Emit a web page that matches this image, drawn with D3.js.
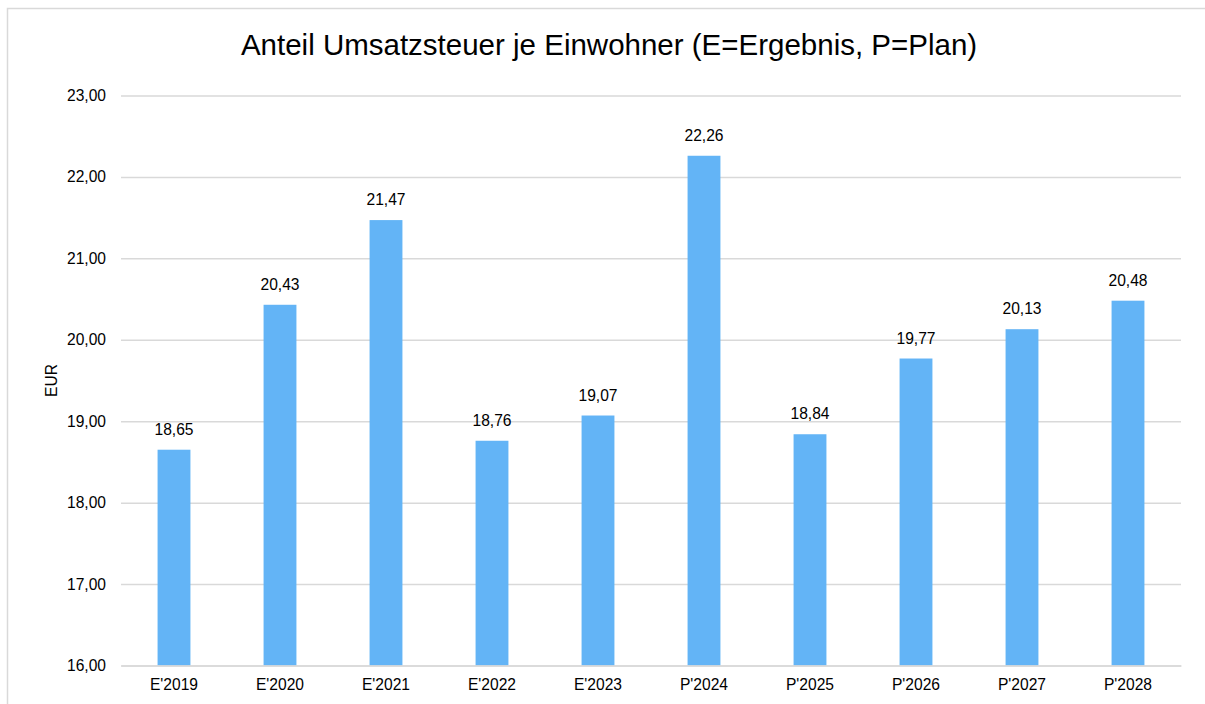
<!DOCTYPE html>
<html>
<head>
<meta charset="utf-8">
<script src="https://cdn.jsdelivr.net/npm/d3@7"></script>
<style>
  body { margin: 0; background: #fff; }
  text { font-family: "Liberation Sans", Arial, sans-serif; fill: #000; }
</style>
</head>
<body>
<script>
// Daten
const kategorien = ["E'2019", "E'2020", "E'2021", "E'2022", "E'2023", "P'2024", "P'2025", "P'2026", "P'2027", "P'2028"];
const werte = [18.65, 20.43, 21.47, 18.76, 19.07, 22.26, 18.84, 19.77, 20.13, 20.48];
const yTicks = [16, 17, 18, 19, 20, 21, 22, 23];

const width = 1205;
const height = 704;
const margin = { top: 95.5, right: 24, bottom: 38.5, left: 121 };
const fs = 15.6;

const svg = d3.select("body").append("svg")
    .attr("width", width)
    .attr("height", height);

// Rahmen
svg.append("rect")
    .attr("x", 7.5).attr("y", 8.5)
    .attr("width", width).attr("height", height)
    .attr("fill", "none")
    .attr("stroke", "#d9d9d9")
    .attr("stroke-width", 1.5);

const x = d3.scaleBand()
    .domain(kategorien)
    .range([margin.left, width - margin.right])
    .paddingInner(0.69)
    .paddingOuter(0.345);

const y = d3.scaleLinear()
    .domain([16, 23])
    .range([height - margin.bottom, margin.top]);

const fmt = v => d3.format(".2f")(v).replace(".", ",");

// Gitternetz
svg.append("g")
    .attr("transform", `translate(${margin.left},0)`)
    .call(d3.axisLeft(y).tickValues(yTicks).tickSize(-(width - margin.left - margin.right)).tickFormat(fmt).tickPadding(15))
    .call(g => g.select(".domain").remove())
    .call(g => g.selectAll(".tick line").attr("stroke", "#d9d9d9").attr("stroke-width", 1.5))
    .call(g => g.selectAll(".tick text").attr("font-size", fs).attr("font-family", "Liberation Sans, Arial, sans-serif").attr("fill", "#000"));

// Balken
svg.append("g").selectAll("rect")
    .data(werte)
    .enter()
    .append("rect")
    .attr("x", (d, i) => x(kategorien[i]))
    .attr("y", d => y(d))
    .attr("width", x.bandwidth())
    .attr("height", d => y(16) - y(d))
    .attr("fill", "#63b4f6");

// Werte
svg.append("g").selectAll("text")
    .data(werte)
    .enter()
    .append("text")
    .attr("x", (d, i) => x(kategorien[i]) + x.bandwidth() / 2)
    .attr("y", d => y(d) - 15)
    .attr("text-anchor", "middle")
    .attr("font-size", fs)
    .text(d => fmt(d));

// X-Achse
svg.append("g")
    .attr("transform", `translate(0,${height - margin.bottom})`)
    .call(d3.axisBottom(x).tickSize(0).tickPadding(13))
    .call(g => g.select(".domain").attr("stroke", "#d9d9d9").attr("stroke-width", 1.5))
    .call(g => g.selectAll(".tick text").attr("font-size", fs).attr("font-family", "Liberation Sans, Arial, sans-serif").attr("fill", "#000"));

// Achsentitel
svg.append("text")
    .attr("transform", "translate(57,380.5) rotate(-90)")
    .attr("text-anchor", "middle")
    .attr("font-size", fs)
    .text("EUR");

// Titel
svg.append("text")
    .attr("x", 609)
    .attr("y", 55)
    .attr("text-anchor", "middle")
    .attr("font-size", 29.5)
    .text("Anteil Umsatzsteuer je Einwohner (E=Ergebnis, P=Plan)");
</script>
</body>
</html>
